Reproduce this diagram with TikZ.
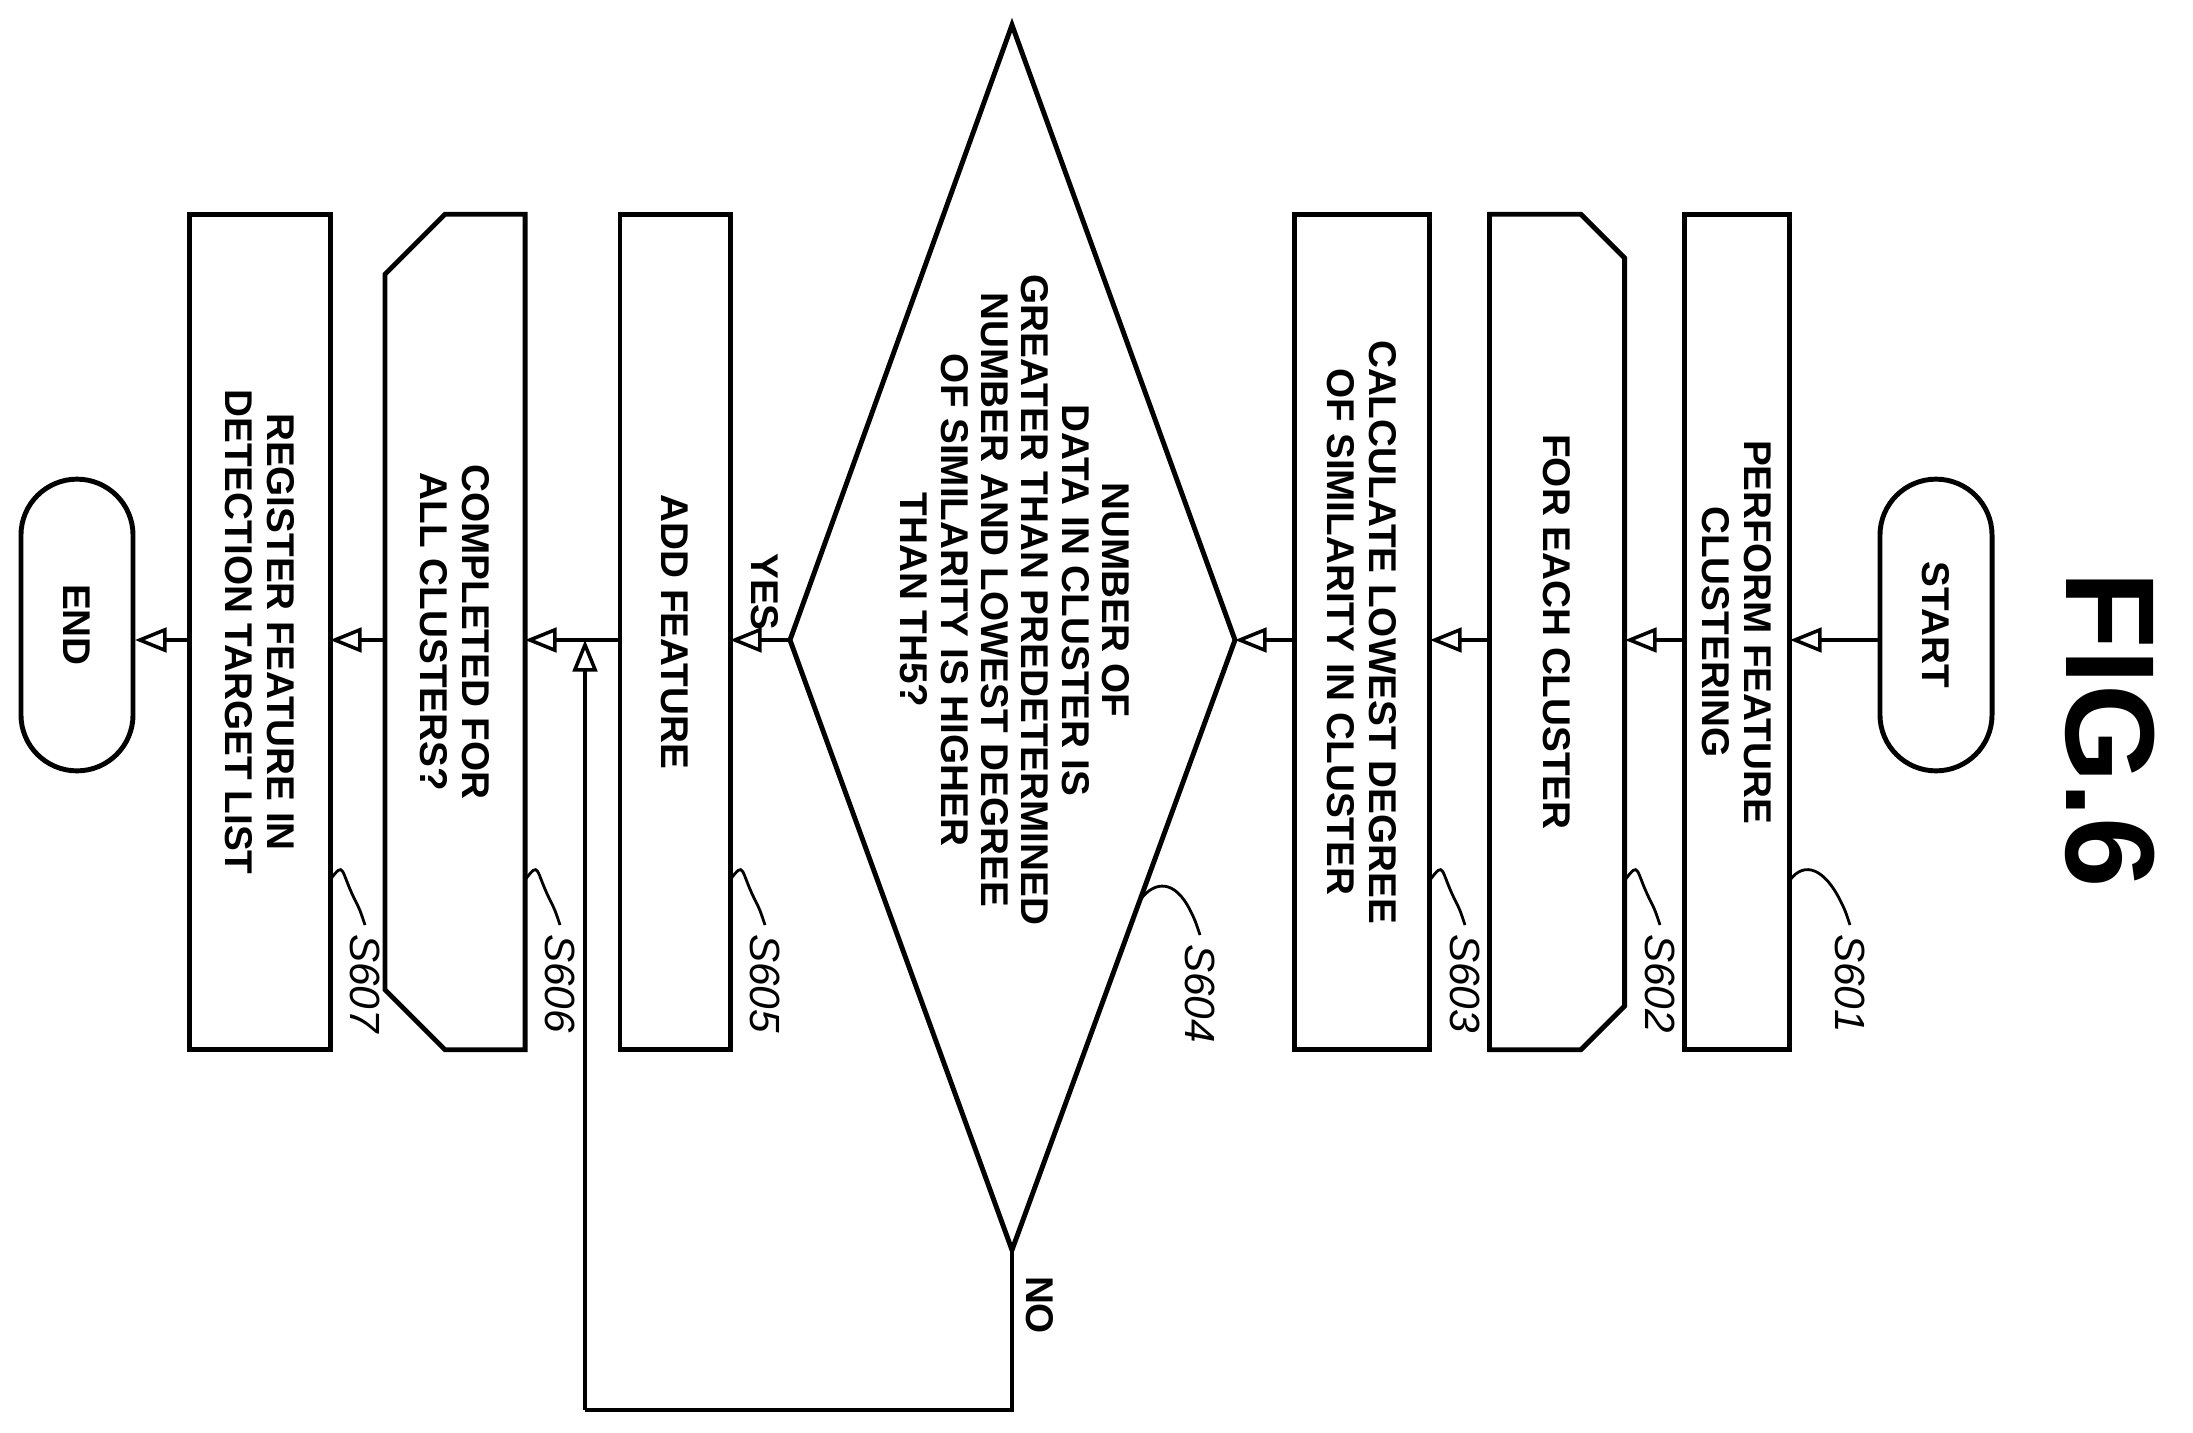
\documentclass[tikz,border=0pt]{standalone}
\usepackage{fontspec}
\setmainfont{Liberation Sans}
\usetikzlibrary{shapes.misc,arrows.meta}
\begin{document}
\begin{tikzpicture}[x=0.01cm,y=-0.01cm,
  box/.style={draw,line width=1.4pt,rectangle,rotate=-90,minimum width=8.35cm,align=center,font=\bfseries\fontsize{11}{12}\selectfont,inner sep=0pt},
  term/.style={draw,line width=1.4pt,rounded rectangle,rotate=-90,minimum width=3.15cm,minimum height=1.12cm,font=\bfseries\fontsize{11}{11.5}\selectfont},
  txt/.style={rotate=-90,align=center,font=\bfseries\fontsize{11}{11.5}\selectfont,inner sep=0pt},
  lbl/.style={rotate=-90,font=\itshape\fontsize{12}{12}\selectfont,anchor=west,inner sep=1pt},
  arr/.style={line width=1pt,-{Triangle[open,length=9pt,width=7pt]}},
  ln/.style={line width=1pt}]
\useasboundingbox (0,0) rectangle (2193,1433);
\node[rotate=-90,font=\bfseries\fontsize{36}{36}\selectfont] (fig) at (2110,730) {FIG.6};
\node[term] (start) at (1936,625) {START};
\node[box,minimum height=1.05cm] (s1) at (1737,632) {PERFORM FEATURE\\CLUSTERING};
\node[box,chamfered rectangle,chamfered rectangle corners={north west,north east},chamfered rectangle xsep=0.3cm,chamfered rectangle ysep=0.3cm,minimum height=1.35cm] (s2) at (1557,632) {FOR EACH CLUSTER};
\node[box,minimum height=1.35cm] (s3) at (1362,632) {CALCULATE LOWEST DEGREE\\OF SIMILARITY IN CLUSTER};
\coordinate (dR) at (1235,640);
\coordinate (dL) at (790,640);
\coordinate (dT) at (1012,25);
\coordinate (dB) at (1012,1250);
\draw[ln,line width=1.4pt] (dR)--(dT)--(dL)--(dB)--cycle;
\node[txt] (s4) at (1015,600) {NUMBER OF\\DATA IN CLUSTER IS\\GREATER THAN PREDETERMINED\\NUMBER AND LOWEST DEGREE\\OF SIMILARITY IS HIGHER\\THAN TH5?};
\node[box,minimum height=1.1cm] (s5) at (675,632) {ADD FEATURE};
\node[box,chamfered rectangle,chamfered rectangle corners={south west,south east},chamfered rectangle xsep=0.3cm,chamfered rectangle ysep=0.3cm,minimum height=1.4cm] (s6) at (455,632) {COMPLETED FOR\\ALL CLUSTERS?};
\node[box,minimum height=1.4cm] (s7) at (260,632) {REGISTER FEATURE IN\\DETECTION TARGET LIST};
\node[term] (end) at (77,625) {END};
\coordinate (m6) at (585,640);
\draw[arr] (start.south|-0,640) -- (1790,640);
\draw[arr] (1685,640) -- (1625,640);
\draw[arr] (1490,640) -- (1430,640);
\draw[arr] (1295,640) -- (dR);
\draw[arr] (dL) -- (730,640);
\draw[ln] (620,640) -- (m6);
\draw[arr] (m6) -- (525,640);
\draw[arr] (385,640) -- (330,640);
\draw[arr] (190,640) -- (135,640);
\draw[ln] (dB) -- (1012,1410) -- (585,1410);
\draw[arr] (585,1410) -- (m6);
\node[rotate=-90,font=\bfseries\fontsize{11}{11}\selectfont] (yes) at (765,592) {YES};
\node[rotate=-90,font=\bfseries\fontsize{11}{11}\selectfont] (no) at (1040,1305) {NO};
\foreach \n/\x/\y/\lx/\ly in {S601/1790/880/1850/930, S602/1625/880/1660/930, S603/1430/880/1465/930, S605/730/880/765/930, S606/525/880/560/930, S607/330/880/365/930, S604/1140/900/1200/940}{
  \draw[line width=0.8pt] (\x,\y) .. controls (\x+15,\y-20) and (\lx-25,\ly-60) .. (\lx-10,\ly-30) .. controls (\lx-5,\ly-20) .. (\lx,\ly-5);
  \node[lbl] (l\n) at (\lx,\ly) {\n};
}
\end{tikzpicture}
\end{document}
